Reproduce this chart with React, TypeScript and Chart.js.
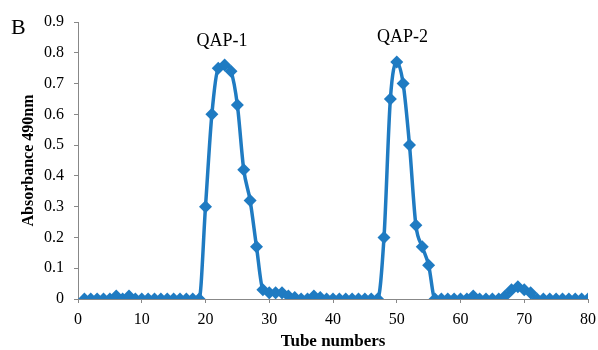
import React, { useEffect, useRef } from "react";
import { Chart, registerables } from "chart.js";

Chart.register(...registerables);

const tubes = [
  1, 2, 3, 4, 5, 6, 7, 8, 9, 10, 11, 12, 13, 14, 15, 16, 17, 18, 19, 20,
  21, 22, 23, 24, 25, 26, 27, 28, 29, 30, 31, 32, 33, 34, 35, 36, 37, 38, 39, 40,
  41, 42, 43, 44, 45, 46, 47, 48, 49, 50, 51, 52, 53, 54, 55, 56, 57, 58, 59, 60,
  61, 62, 63, 64, 65, 66, 67, 68, 69, 70, 71, 72, 73, 74, 75, 76, 77, 78, 79, 80,
];

const absorbance = [
  0, 0, 0, 0, 0, 0.01, 0, 0.01, 0, 0, 0, 0, 0, 0, 0, 0, 0, 0, 0, 0.3,
  0.6, 0.75, 0.76, 0.74, 0.63, 0.42, 0.32, 0.17, 0.03, 0.02, 0.02, 0.02, 0.01, 0.005, 0, 0, 0.01, 0.005, 0, 0,
  0, 0, 0, 0, 0, 0, 0, 0.2, 0.65, 0.77, 0.7, 0.5, 0.24, 0.17, 0.11, 0, 0, 0, 0, 0,
  0, 0.01, 0, 0, 0, 0, 0.01, 0.03, 0.04, 0.03, 0.02, 0, 0, 0, 0, 0, 0, 0, 0, 0,
];

const peakLabels = ["QAP-1", "QAP-2"];
const peakLabelTubes = [22.6, 50.9];
const peakLabelValues = [0.838, 0.852];

const panelLetter = "B";
const xTitle = "Tube numbers";
const yTitle = "Absorbance 490nm";

const BLUE = "#1f7bc2";
const FONT = "'Liberation Serif', 'Times New Roman', serif";

const annotationPlugin = {
  id: "annotations",
  afterDraw(chart: any) {
    const ctx = chart.ctx;
    const xs = chart.scales.x;
    const ys = chart.scales.y;
    ctx.save();
    ctx.fillStyle = "#000";
    ctx.font = `18px ${FONT}`;
    ctx.textAlign = "center";
    ctx.textBaseline = "middle";
    peakLabels.forEach((lab, i) => {
      ctx.fillText(lab, xs.getPixelForValue(peakLabelTubes[i]), ys.getPixelForValue(peakLabelValues[i]));
    });
    ctx.font = `22px ${FONT}`;
    ctx.textAlign = "left";
    ctx.fillText(panelLetter, 11, 28);
    ctx.restore();
  },
};

export default function App() {
  const ref = useRef<HTMLCanvasElement | null>(null);
  useEffect(() => {
    if (!ref.current) return;
    const chart = new Chart(ref.current, {
      type: "line",
      data: {
        datasets: [
          {
            data: tubes.map((t, i) => ({ x: t, y: absorbance[i] })),
            borderColor: BLUE,
            backgroundColor: BLUE,
            borderWidth: 3.5,
            pointStyle: "rectRot",
            pointRadius: 6.5,
            pointBorderWidth: 0,
            tension: 0.3,
            cubicInterpolationMode: "monotone",
          },
        ],
      },
      options: {
        animation: false,
        responsive: false,
        layout: { padding: { top: 22, right: 0, left: 0, bottom: 0 } },
        plugins: { legend: { display: false }, tooltip: { enabled: false } },
        scales: {
          x: {
            type: "linear",
            min: 0,
            max: 80,
            afterFit(s: any) { s.height = 51; s.paddingRight = 10; s.paddingLeft = 0; },
            ticks: { stepSize: 10, color: "#000", font: { family: FONT, size: 16 }, padding: 7, maxRotation: 0 },
            grid: { drawOnChartArea: false, drawTicks: true, tickLength: 4, color: "#888" },
            border: { color: "#888", width: 1 },
            title: { display: true, text: xTitle, color: "#000", font: { family: FONT, size: 17, weight: "bold" }, padding: { top: 0, bottom: -2 } },
          },
          y: {
            min: 0,
            max: 0.9,
            afterFit(s: any) { s.width = 78; },
            ticks: {
              stepSize: 0.1,
              color: "#000",
              font: { family: FONT, size: 16 },
              padding: 10,
              callback: (v: any) => (v === 0 ? "0" : Number(v).toFixed(1)),
            },
            grid: { drawOnChartArea: false, drawTicks: true, tickLength: 4, color: "#888" },
            border: { color: "#888", width: 1 },
            title: { display: true, text: yTitle, color: "#000", font: { family: FONT, size: 16, weight: "bold" }, padding: { top: 19, bottom: 0 } },
          },
        },
      },
      plugins: [annotationPlugin],
    });
    return () => chart.destroy();
  }, []);
  return (
    <div style={{ position: "fixed", left: 0, top: 0, width: 598, height: 350, background: "#fff" }}>
      <canvas ref={ref} width={598} height={350} style={{ width: 598, height: 350 }} />
    </div>
  );
}
